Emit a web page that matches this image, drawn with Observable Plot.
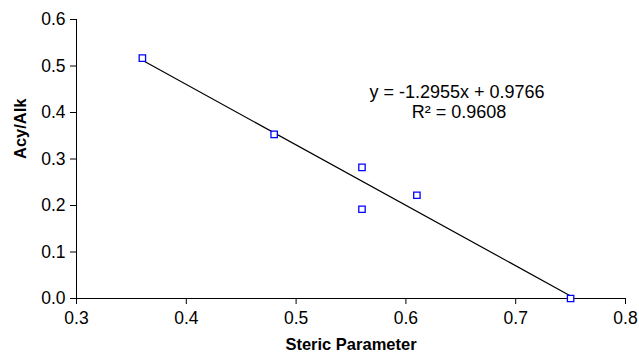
<!DOCTYPE html>
<html><head><meta charset="utf-8">
<script src="https://cdn.jsdelivr.net/npm/d3@7"></script>
<script src="https://cdn.jsdelivr.net/npm/@observablehq/plot@0.6"></script>
<style>body{margin:0;background:#fff} svg{display:block}</style>
</head><body><div id="chart"></div>
<script>
const stericParameter = [0.36, 0.48, 0.56, 0.56, 0.61, 0.75];
const acyAlk = [0.517, 0.353, 0.282, 0.192, 0.222, 0.0];
const xTicks = [0.3, 0.4, 0.5, 0.6, 0.7, 0.8];
const yTicks = [0.0, 0.1, 0.2, 0.3, 0.4, 0.5, 0.6];
const equationLines = ["y = -1.2955x + 0.9766", "R² = 0.9608"];
const equationX = [0.6465, 0.6484];
const equationY = [0.444, 0.401];
const xLabel = "Steric Parameter";
const yLabel = "Acy/Alk";

const points = stericParameter.map((x, i) => ({x, y: acyAlk[i]}));
const notes = equationLines.map((t, i) => ({t, x: equationX[i], y: equationY[i]}));

const chart = Plot.plot({
  width: 639, height: 356,
  marginLeft: 76, marginRight: 14, marginTop: 19, marginBottom: 58,
  style: {fontFamily: "'Liberation Sans', Arial, sans-serif", fontSize: "17.5px", color: "#000", background: "#fff"},
  x: {domain: [0.3, 0.8]},
  y: {domain: [0, 0.6]},
  marks: [
    Plot.axisX({ticks: xTicks, tickSize: 6, tickPadding: 7, tickFormat: d3.format(".1f"), label: null, fontSize: 17.5}),
    Plot.axisY({ticks: yTicks, tickSize: 6, tickPadding: 5, tickFormat: d3.format(".1f"), label: null, fontSize: 17.5}),
    Plot.ruleX([0.3], {stroke: "#000"}),
    Plot.ruleY([0], {stroke: "#000"}),
    Plot.linearRegressionY(points, {x: "x", y: "y", ci: 0, stroke: "#000", strokeWidth: 1.2}),
    Plot.dot(points, {x: "x", y: "y", symbol: "square", r: 3.6, stroke: "#0000ff", fill: "#fff", strokeWidth: 1.3}),
    Plot.text(notes, {x: "x", y: "y", text: "t", fontSize: 18}),
    Plot.text([yLabel], {frameAnchor: "left", dx: -56, rotate: -90, fontWeight: "bold", fontSize: 16.5}),
    Plot.text([xLabel], {frameAnchor: "bottom", dy: 51, fontWeight: "bold", fontSize: 16.5})
  ]
});
document.getElementById("chart").appendChild(chart);
</script>
</body></html>
